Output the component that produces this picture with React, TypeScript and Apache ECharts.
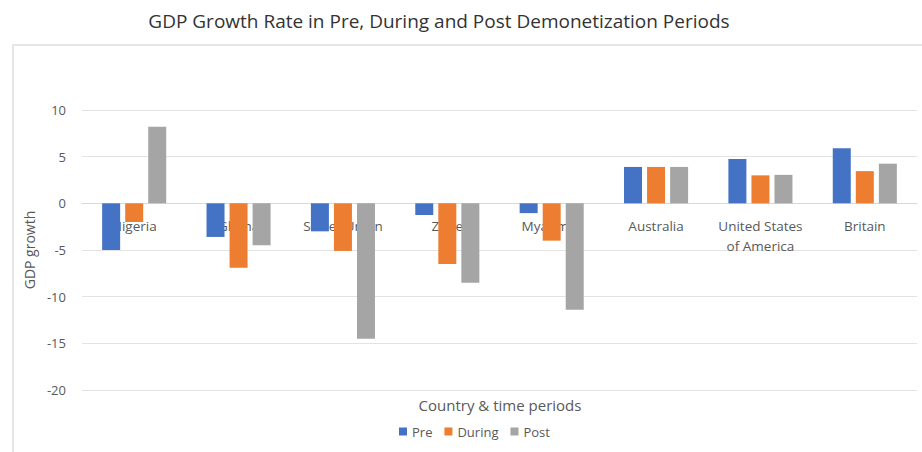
import React, { useEffect, useRef } from "react";
import * as echarts from "echarts";

const categories = ["Nigeria", "Ghana", "Soviet Union", "Zaire", "Myanmar", "Australia", "United States\nof America", "Britain"];
const preValues = [-5.0, -3.6, -3.0, -1.25, -1.05, 3.9, 4.75, 5.9];
const duringValues = [-2.0, -6.9, -5.1, -6.5, -4.0, 3.9, 3.0, 3.45];
const postValues = [8.2, -4.5, -14.5, -8.5, -11.4, 3.9, 3.05, 4.25];
const seriesNames = ["Pre", "During", "Post"];
const colors = ["#4472C4", "#ED7D31", "#A5A5A5"];
const yMin = -20;
const yMax = 10;

const FONT = "'Open Sans', sans-serif";

export default function App() {
  const ref = useRef<HTMLDivElement>(null);
  useEffect(() => {
    document.body.style.margin = "0";
    if (!ref.current) return;
    const chart = echarts.init(ref.current, null, { renderer: "svg" });
    const data = [preValues, duringValues, postValues];
    const gridTop = 110;
    const gridBottom = 62;
    const plotH = 452 - gridTop - gridBottom;
    const zeroOffset = -(plotH * (0 - yMin)) / (yMax - yMin);
    chart.setOption({
      animation: false,
      backgroundColor: "#ffffff",
      title: {
        text: "GDP Growth Rate in Pre, During and Post Demonetization Periods",
        left: 434,
        top: 6,
        textAlign: "center",
        textStyle: { fontFamily: FONT, fontSize: 19, fontWeight: "normal", color: "#333333" },
      },
      legend: {
        data: seriesNames,
        top: 420,
        left: 394,
        itemWidth: 8,
        itemHeight: 8,
        itemGap: 12,
        textStyle: { fontFamily: FONT, fontSize: 13, color: "#595959" },
        icon: "rect",
      },
      graphic: [
        { type: "line", shape: { x1: 12, y1: 45, x2: 922, y2: 45 }, style: { stroke: "#e6e6e6", lineWidth: 2 } },
        { type: "line", shape: { x1: 13, y1: 45, x2: 13, y2: 452 }, style: { stroke: "#e6e6e6", lineWidth: 2 } },
        {
          type: "text",
          x: 500,
          y: 405,
          style: { text: "Country & time periods", fontFamily: FONT, fontSize: 15, fill: "#595959", textAlign: "center", textVerticalAlign: "middle" },
        },
      ],
      grid: { left: 82, right: 5, top: gridTop, bottom: gridBottom, containLabel: false },
      xAxis: {
        type: "category",
        data: categories,
        offset: zeroOffset,
        axisLine: { onZero: false, lineStyle: { color: "#d9d9d9" } },
        axisTick: { show: false },
        axisLabel: { fontFamily: FONT, fontSize: 13.5, color: "#595959", margin: 13, interval: 0, lineHeight: 20 },
      },
      yAxis: {
        type: "value",
        min: yMin,
        max: yMax,
        interval: 5,
        name: "GDP growth",
        nameLocation: "middle",
        nameGap: 46,
        nameTextStyle: { fontFamily: FONT, fontSize: 14, color: "#595959" },
        axisLine: { show: false },
        axisTick: { show: false },
        axisLabel: { fontFamily: FONT, fontSize: 13, color: "#595959", margin: 16 },
        splitLine: { lineStyle: { color: "#e3e3e3" } },
      },
      series: seriesNames.map((name, i) => ({
        name,
        type: "bar",
        data: data[i],
        barWidth: 18,
        barGap: "28%",
        itemStyle: { color: colors[i] },
      })),
    });
    return () => chart.dispose();
  }, []);
  return <div ref={ref} style={{ width: 922, height: 452 }} />;
}
